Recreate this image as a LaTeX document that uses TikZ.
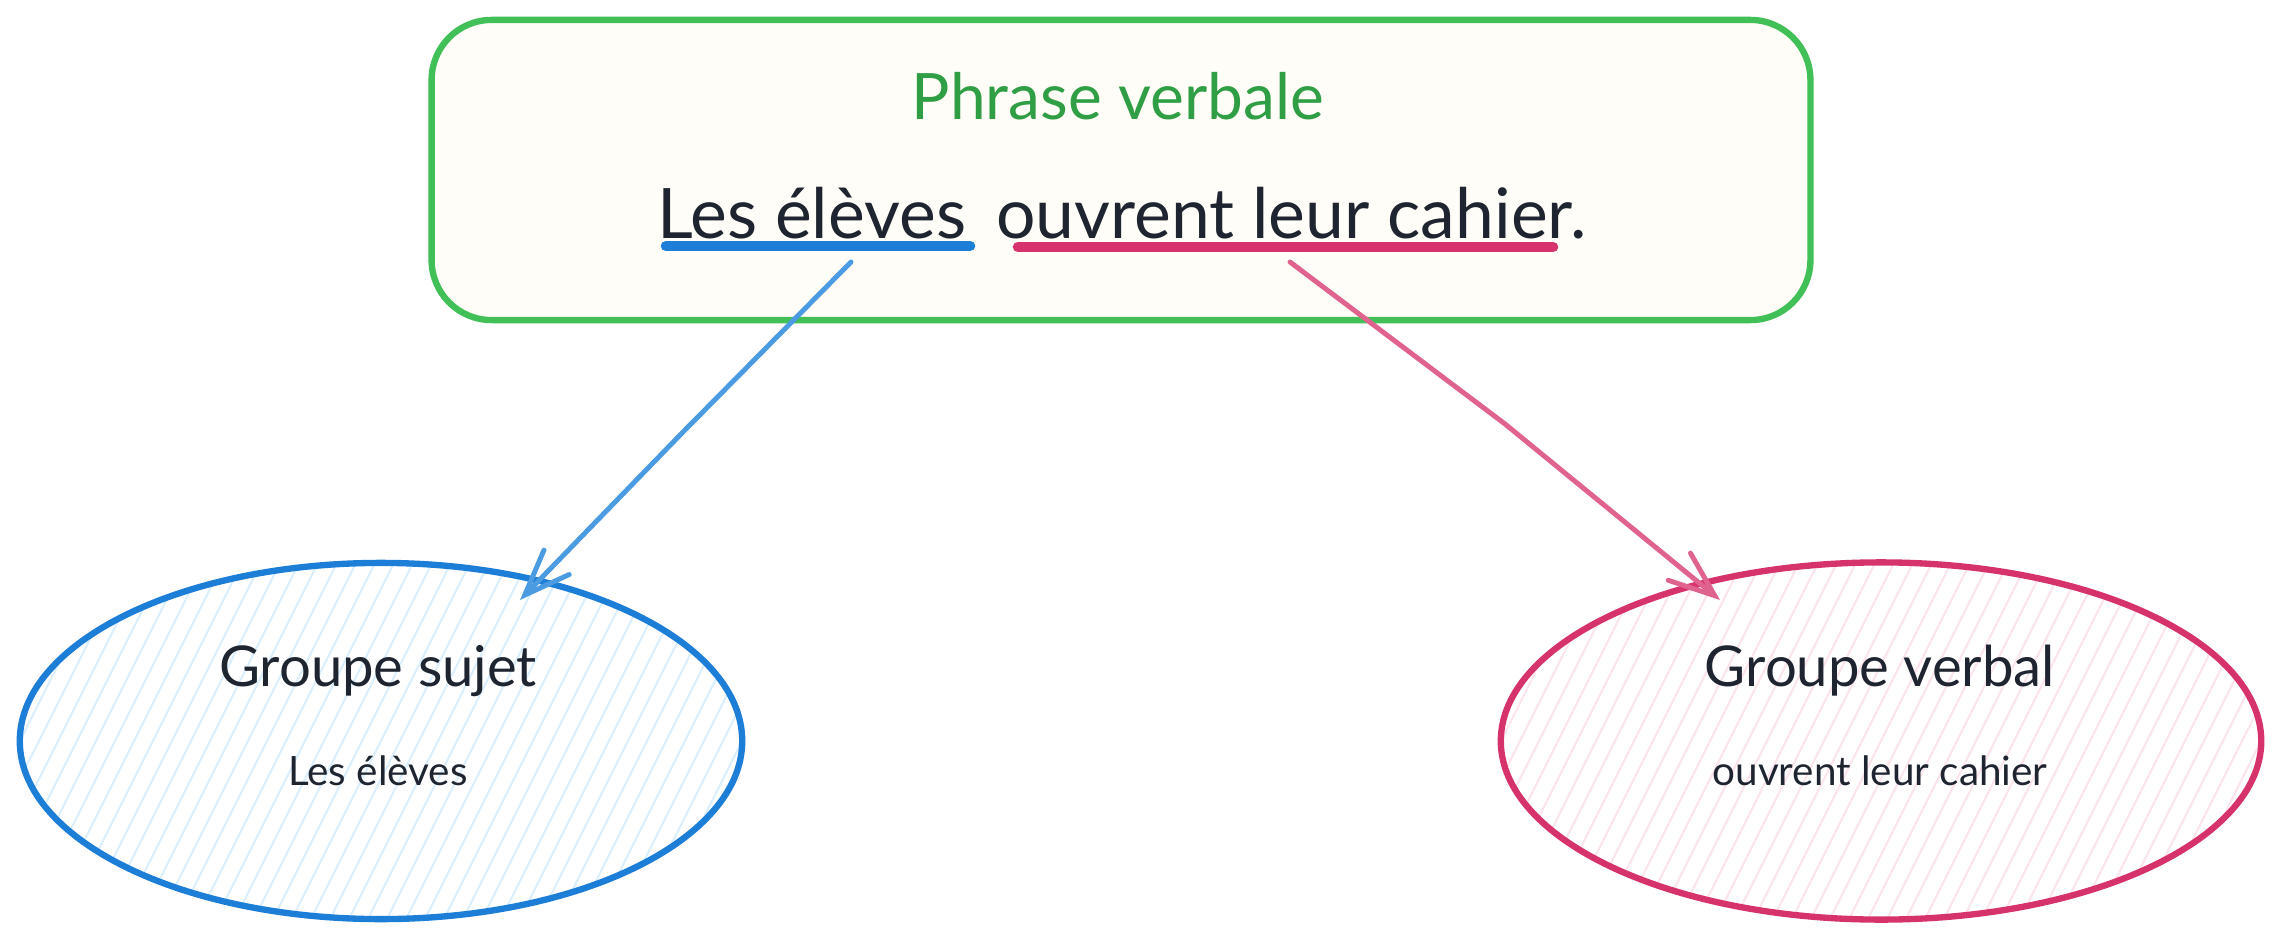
\documentclass[tikz,border=0pt]{standalone}
\usepackage{fontspec}
\setmainfont{Lato}
\usetikzlibrary{arrows.meta,shapes.geometric}
\definecolor{grnline}{HTML}{40C057}
\definecolor{grntext}{HTML}{2F9E44}
\definecolor{boxfill}{HTML}{FFFDF7}
\definecolor{blu}{HTML}{1C7ED6}
\definecolor{bluarrow}{HTML}{4A9BE2}
\definecolor{bluhatch}{HTML}{DCEFFE}
\definecolor{pnk}{HTML}{D6336C}
\definecolor{pnkarrow}{HTML}{E0628F}
\definecolor{pnkhatch}{HTML}{FDE5EE}
\definecolor{ink}{HTML}{1E2530}
\begin{document}
\begin{tikzpicture}[x=0.01cm,y=-0.01cm,
  mainbox/.style={draw=grnline,fill=boxfill,line width=1.8pt,rounded corners=0.6cm,
    minimum width=13.78cm,minimum height=3.0cm,inner sep=0pt},
  titletext/.style={text=grntext,font=\fontsize{18.2pt}{22pt}\selectfont,inner sep=0pt,anchor=base},
  senttext/.style={text=ink,font=\fontsize{19.8pt}{24pt}\selectfont,inner sep=0pt,anchor=base},
  headtext/.style={text=ink,font=\fontsize{16pt}{19pt}\selectfont,inner sep=0pt,anchor=base},
  subtext/.style={text=ink,font=\fontsize{11.5pt}{14pt}\selectfont,inner sep=0pt,anchor=base},
  hatchline/.style={line width=0.6pt},
  groupell/.style={ellipse,line width=1.8pt,inner sep=0pt},
  uline/.style={line width=3pt,line cap=round},
  connector/.style={line width=1.4pt,line cap=round,line join=round,
    -{Straight Barb[length=13pt,width=10pt,line cap=round]}},
]
\path[fill=white] (0,0) rectangle (2280,940);
\useasboundingbox (0,0) rectangle (2280,940);

% top box
\node[mainbox] (box) at (1121,170) {};
\node[titletext] (pv) at (1118,120) {Phrase verbale};
\node[senttext] (sent) at (1122,239) {Les élèves\hspace{3.5pt} ouvrent leur cahier.};

% underlines
\coordinate (ubA) at (666,246);
\coordinate (ubB) at (970,246);
\coordinate (upA) at (1018,247);
\coordinate (upB) at (1553,247);
\draw[uline,blu] (ubA) -- (ubB);
\draw[uline,pnk] (upA) -- (upB);

% ellipses
\node[groupell,draw=blu,minimum width=7.22cm,minimum height=3.56cm,
  path picture={\begin{scope}[shift={(path picture bounding box.center)}]
    \foreach \i in {-28,...,28} \draw[hatchline,bluhatch] ({\i*19-100},200) -- ({\i*19+100},-200);
  \end{scope}}] (gs) at (381,741) {};
\node[groupell,draw=pnk,minimum width=7.6cm,minimum height=3.57cm,
  path picture={\begin{scope}[shift={(path picture bounding box.center)}]
    \foreach \i in {-28,...,28} \draw[hatchline,pnkhatch] ({\i*19-100},200) -- ({\i*19+100},-200);
  \end{scope}}] (gv) at (1881,741) {};

\node[headtext] (gsh) at (378,686) {Groupe sujet};
\node[subtext] (gss) at (378,785) {Les élèves};
\node[headtext] (gvh) at (1880,686) {Groupe verbal};
\node[subtext] (gvs) at (1880,785) {ouvrent leur cahier};

% connectors
\coordinate (bS) at (851,262);
\coordinate (bM) at (683,432);
\coordinate (bE) at (520,600);
\coordinate (pS) at (1290,262);
\coordinate (pM) at (1505,424);
\coordinate (pE) at (1720,600);
\draw[connector,bluarrow] (bS) -- (bM) -- (bE);
\draw[connector,pnkarrow] (pS) -- (pM) -- (pE);
\end{tikzpicture}
\end{document}
